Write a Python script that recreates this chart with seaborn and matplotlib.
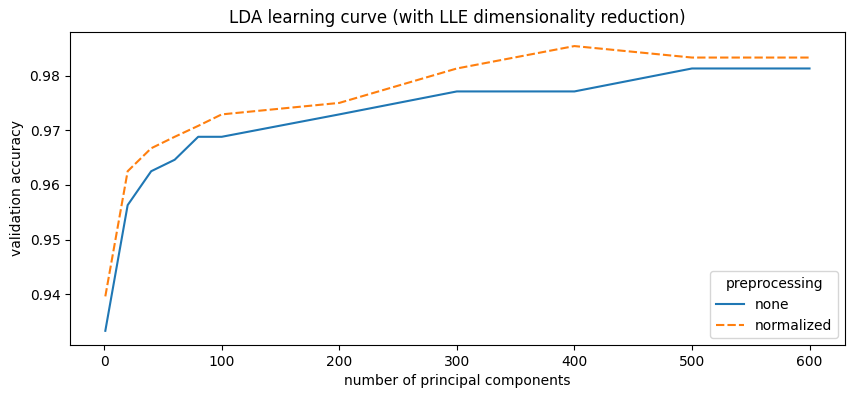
import pandas as pd
import matplotlib
matplotlib.use("Agg")
import matplotlib.pyplot as plt
import seaborn as sns

components = [1, 20, 40, 60, 80, 100, 200, 300, 400, 500, 600]
acc_none = [0.9333, 0.9563, 0.9625, 0.9646, 0.9688, 0.9688, 0.9729, 0.9771, 0.9771, 0.9813, 0.9813]
acc_norm = [0.9396, 0.9625, 0.9667, 0.9688, 0.9708, 0.9729, 0.9750, 0.9813, 0.9854, 0.9833, 0.9833]

df = pd.DataFrame({
    "n_components": components * 2,
    "accuracy": acc_none + acc_norm,
    "preprocessing": ["none"] * len(components) + ["normalized"] * len(components),
})

fig, ax = plt.subplots(figsize=(8.55, 3.93), dpi=100)
fig.subplots_adjust(left=0.082, right=0.988, top=0.919, bottom=0.122)

sns.lineplot(data=df, x="n_components", y="accuracy", hue="preprocessing",
             style="preprocessing", ax=ax)
ax.set_title("LDA learning curve (with LLE dimensionality reduction)")
ax.set_xlabel("number of principal components")
ax.set_ylabel("validation accuracy")
ax.legend(title="preprocessing", loc="lower right")

plt.savefig("out.png")
